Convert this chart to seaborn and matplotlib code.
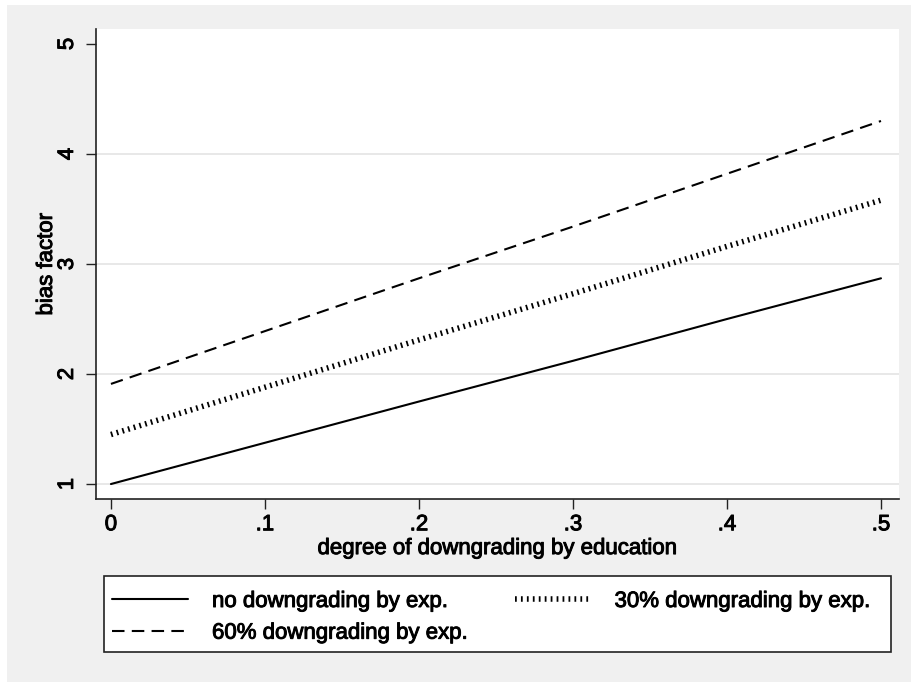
#%%
import pandas as pd
import seaborn as sns
import matplotlib.pyplot as plt
import matplotlib.patheffects as pe
from matplotlib.patches import Rectangle

#%% data
x_vals = [0.0, 0.1, 0.2, 0.3, 0.4, 0.5]
no_down = [1.00, 1.375, 1.75, 2.12, 2.50, 2.87]
down30 = [1.45, 1.88, 2.31, 2.73, 3.16, 3.58]
down60 = [1.91, 2.39, 2.87, 3.34, 3.82, 4.30]
labels = ['no downgrading by exp.', '30% downgrading by exp.', '60% downgrading by exp.']
x_ticks = [0, 0.1, 0.2, 0.3, 0.4, 0.5]
x_ticklabels = ['0', '.1', '.2', '.3', '.4', '.5']
y_ticks = [1, 2, 3, 4, 5]

#%% setup
sns.set_style("white")
plt.rcParams['font.family'] = ['Liberation Sans', 'DejaVu Sans']
plt.rcParams.update({'text.color': 'black', 'axes.labelcolor': 'black',
                     'xtick.color': 'black', 'ytick.color': 'black'})
bg = '#f0f0f0'
fs = 16
heavy = [pe.withStroke(linewidth=0.7, foreground='black')]

fig = plt.figure(figsize=(9.11, 6.82), dpi=100, facecolor='white')
fig.patches.append(Rectangle((7/911, 0), 1, 1 - 5/682, transform=fig.transFigure,
                             facecolor=bg, edgecolor='none', zorder=-10))
ax = fig.add_axes([96/911, 1 - 499/682, (899-96)/911, (499-29)/682])
ax.set_facecolor('white')

#%% plot
styles = [dict(linestyle='-', linewidth=1.5),
          dict(linestyle=(0, (0.32, 0.75)), linewidth=4.0),
          dict(linestyle=(0, (6, 3.5)), linewidth=1.5)]
for ys, lab, st in zip([no_down, down30, down60], labels, styles):
    sns.lineplot(x=x_vals, y=ys, ax=ax, color='black', label=lab, **st)

for y in y_ticks[:-1]:
    ax.axhline(y, color='#e6e6e6', lw=1.3, zorder=0)

ax.set_xlim(-0.0097, 0.5117)
ax.set_ylim(0.864, 5.136)
ax.set_xticks(x_ticks)
ax.set_xticklabels(x_ticklabels, fontsize=fs)
ax.set_yticks(y_ticks)
ax.set_yticklabels([str(v) for v in y_ticks], fontsize=fs, rotation=90, va='center')
ax.tick_params(axis='both', direction='out', length=7, width=1, color='#222222',
               left=True, bottom=True)
ax.tick_params(axis='x', pad=4)
ax.tick_params(axis='y', pad=6)
for side in ['top', 'right']:
    ax.spines[side].set_visible(False)
for side in ['left', 'bottom']:
    ax.spines[side].set_color('#222222')
    ax.spines[side].set_linewidth(1.2)

ax.set_xlabel('degree of downgrading by education', fontsize=fs, labelpad=2)
ax.set_ylabel('bias factor', fontsize=fs, labelpad=0)

#%% legend
h, l = ax.get_legend_handles_labels()
ax.get_legend().remove()
order = [0, 2, 1]
leg = fig.legend([h[i] for i in order], [l[i] for i in order], ncol=2, loc='upper left',
                 bbox_to_anchor=(112/911, 1 - 591/682), frameon=False, fontsize=fs,
                 handlelength=3.4, handletextpad=1.1, columnspacing=2.1,
                 labelspacing=0.48, borderpad=0, borderaxespad=0)
fig.patches.append(Rectangle((104/911, 1 - 652/682), (891-104)/911, 76/682,
                             transform=fig.transFigure, facecolor='white',
                             edgecolor='#222222', lw=1.2, zorder=-5))

texts = ax.get_xticklabels() + ax.get_yticklabels() + [ax.xaxis.label, ax.yaxis.label] + leg.get_texts()
for t in texts:
    t.set_path_effects(heavy)

plt.savefig('out.png', dpi=100, facecolor=fig.get_facecolor())
